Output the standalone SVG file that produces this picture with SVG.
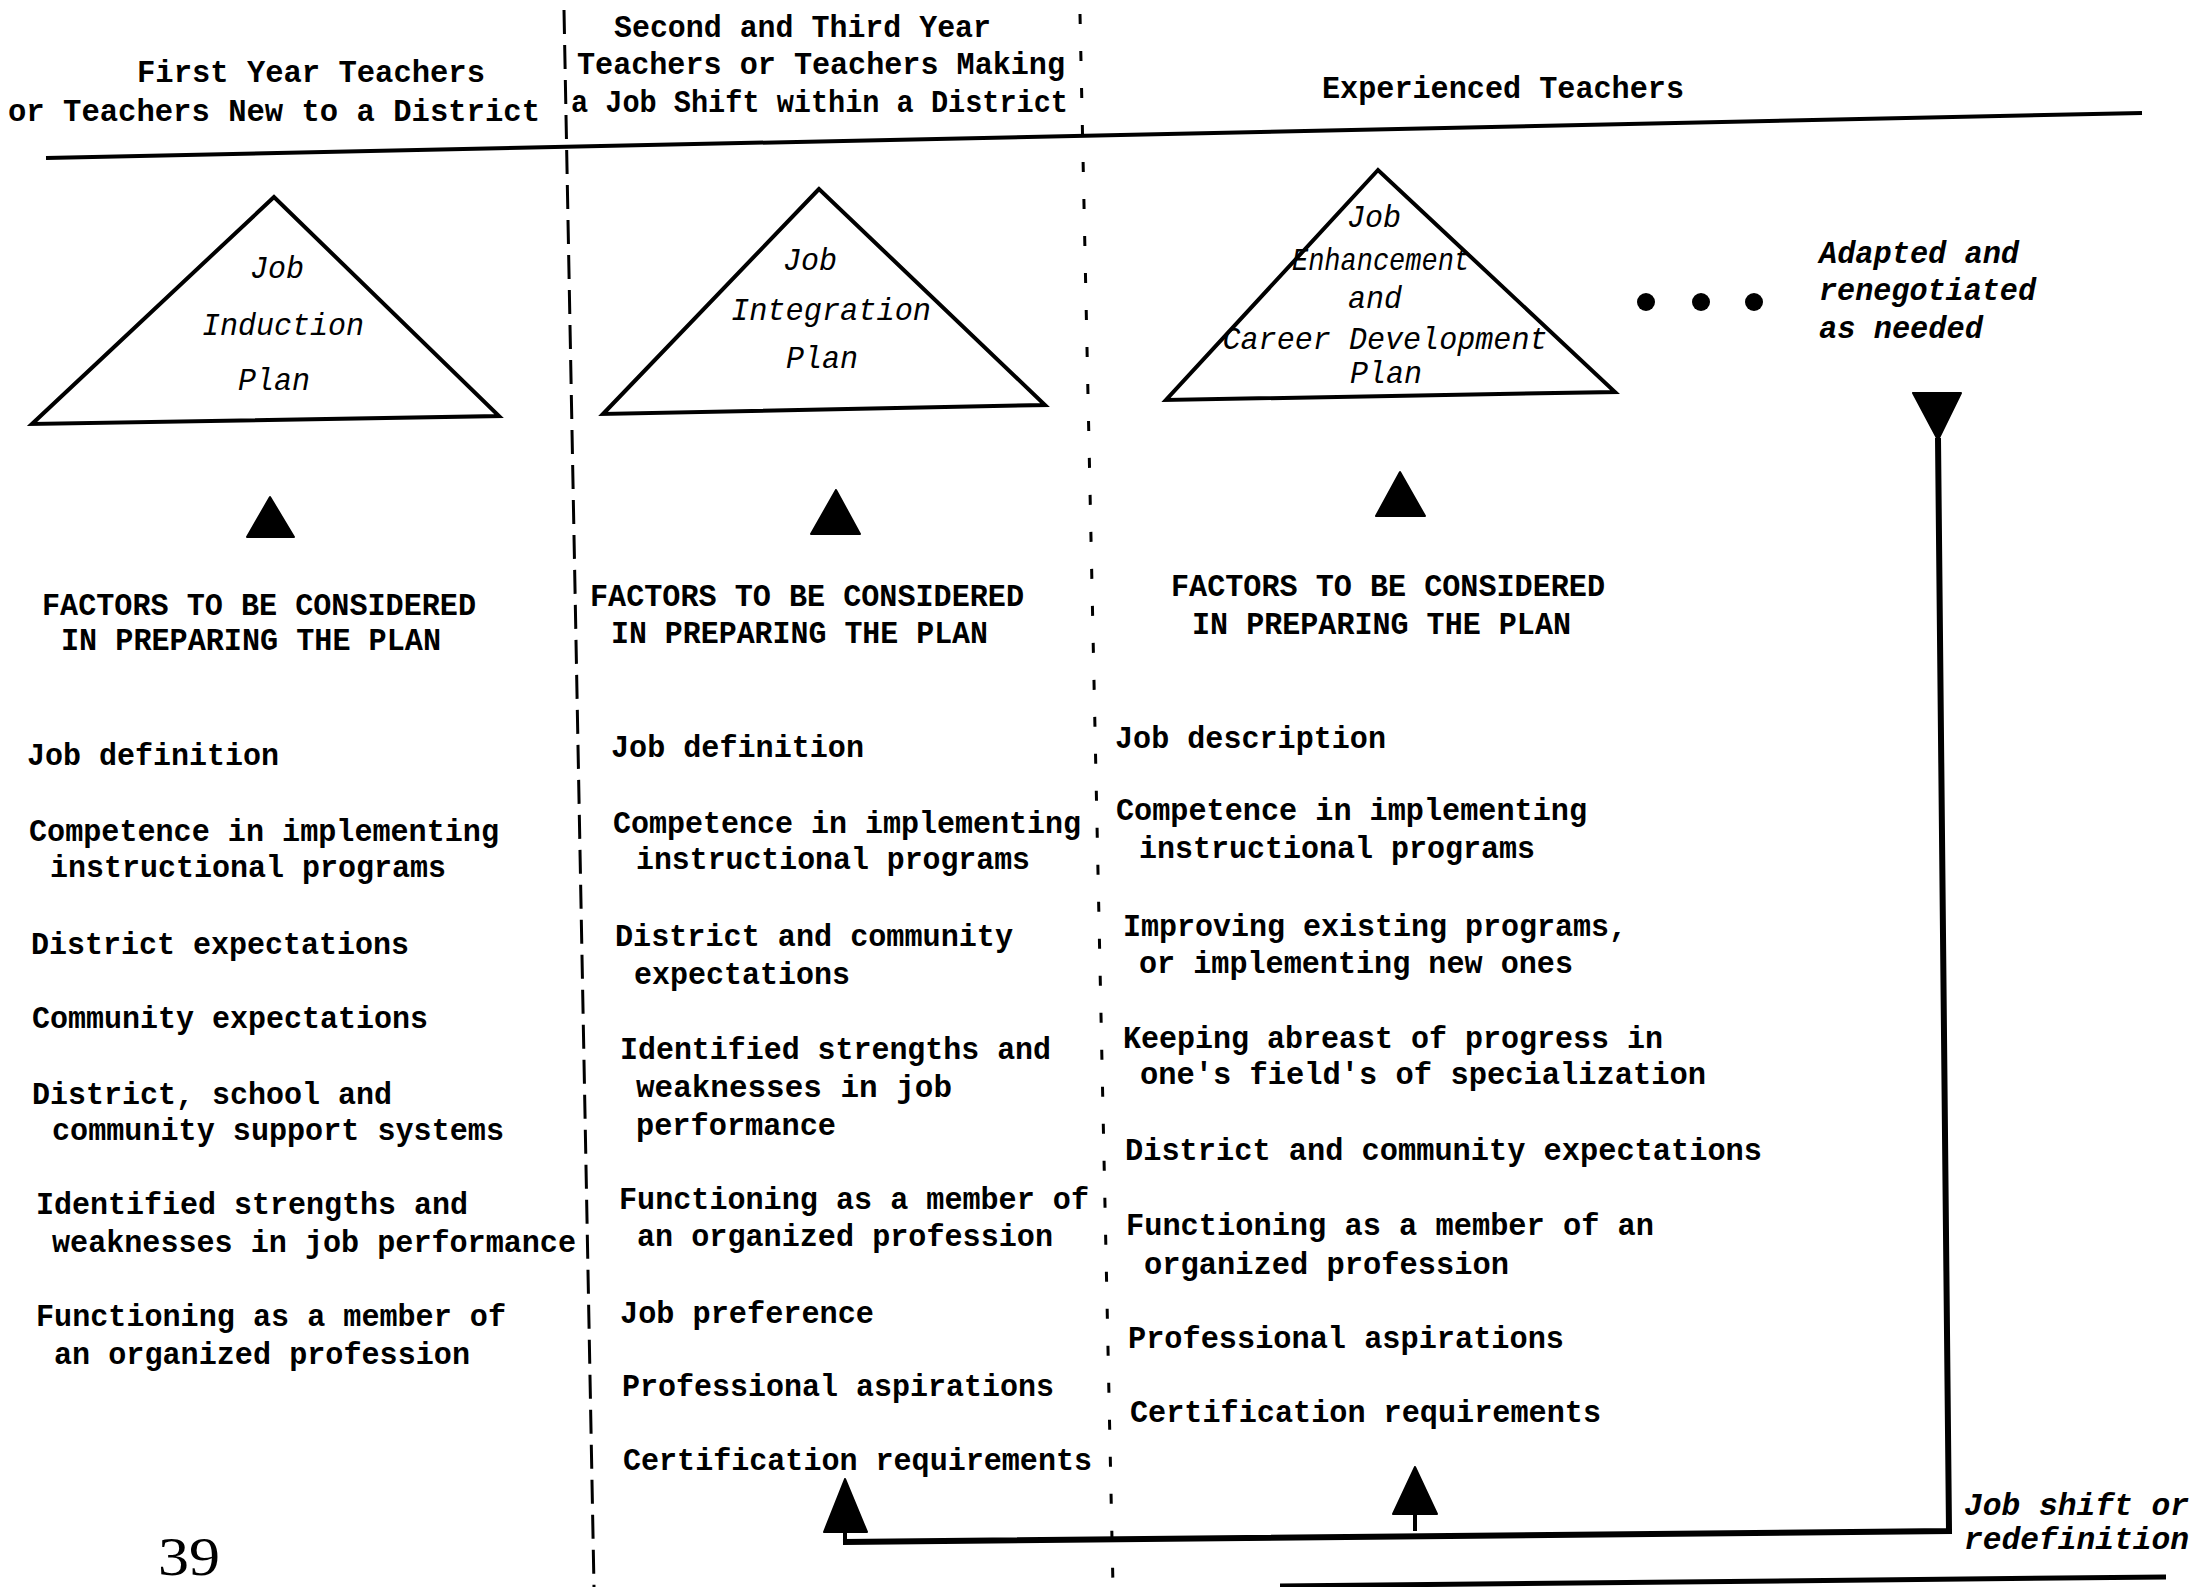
<svg xmlns="http://www.w3.org/2000/svg" width="2191" height="1587" viewBox="0 0 2191 1587">
<style>
.tw{font-family:"Liberation Mono","DejaVu Sans Mono",monospace;font-size:32px;font-weight:bold;fill:#000}
.it{font-family:"Liberation Mono","DejaVu Sans Mono",monospace;font-size:32px;font-style:italic;fill:#000;text-anchor:middle}
.itb{font-family:"Liberation Mono","DejaVu Sans Mono",monospace;font-size:32px;font-style:italic;font-weight:bold;fill:#000}
.tri{fill:#fff;stroke:#000;stroke-width:4;stroke-linejoin:miter}
.head{fill:#000;stroke:#000;stroke-width:2;stroke-linejoin:round}
.line{fill:none;stroke:#000;stroke-linecap:butt;stroke-linejoin:miter}
</style>
<rect x="0" y="0" width="2191" height="1587" fill="#fff"/>

<g id="dividers">
<path class="line" d="M46 158 L2142 113" stroke-width="4"/>
<path class="line" d="M564 10 L594 1587" stroke-width="3" stroke-dasharray="24 11"/>
<path class="line" d="M1080 14 L1113 1587" stroke-width="3" stroke-dasharray="10 27"/>
<path class="line" d="M1280 1586 L2166 1577" stroke-width="5"/>
</g>

<g id="header-first-year" lengthAdjust="spacingAndGlyphs">
<text class="tw" x="137" y="82" textLength="348" lengthAdjust="spacingAndGlyphs">First Year Teachers</text>
<text class="tw" x="8" y="121" textLength="532" lengthAdjust="spacingAndGlyphs">or Teachers New to a District</text>
</g>
<g id="header-second-third">
<text class="tw" x="614" y="37" textLength="377" lengthAdjust="spacingAndGlyphs">Second and Third Year</text>
<text class="tw" x="577" y="74" textLength="488" lengthAdjust="spacingAndGlyphs">Teachers or Teachers Making</text>
<text class="tw" x="571" y="112" textLength="497" lengthAdjust="spacingAndGlyphs">a Job Shift within a District</text>
</g>
<g id="header-experienced">
<text class="tw" x="1322" y="98" textLength="362" lengthAdjust="spacingAndGlyphs">Experienced Teachers</text>
</g>

<g id="plan-induction">
<polygon class="tri" points="274,197 32,424 499,416"/>
<text class="it" x="277" y="278" textLength="54" lengthAdjust="spacingAndGlyphs">Job</text>
<text class="it" x="283" y="335" textLength="162" lengthAdjust="spacingAndGlyphs">Induction</text>
<text class="it" x="274" y="390" textLength="72" lengthAdjust="spacingAndGlyphs">Plan</text>
</g>
<g id="plan-integration">
<polygon class="tri" points="819,189 603,414 1045,405"/>
<text class="it" x="810" y="270" textLength="54" lengthAdjust="spacingAndGlyphs">Job</text>
<text class="it" x="831" y="320" textLength="200" lengthAdjust="spacingAndGlyphs">Integration</text>
<text class="it" x="822" y="368" textLength="72" lengthAdjust="spacingAndGlyphs">Plan</text>
</g>
<g id="plan-enhancement">
<polygon class="tri" points="1378,170 1166,400 1615,392"/>
<text class="it" x="1374" y="227" textLength="54" lengthAdjust="spacingAndGlyphs">Job</text>
<text class="it" x="1381" y="270" textLength="178" lengthAdjust="spacingAndGlyphs">Enhancement</text>
<text class="it" x="1375" y="308" textLength="54" lengthAdjust="spacingAndGlyphs">and</text>
<text class="it" x="1385" y="349" textLength="325" lengthAdjust="spacingAndGlyphs">Career Development</text>
<text class="it" x="1386" y="383" textLength="72" lengthAdjust="spacingAndGlyphs">Plan</text>
</g>

<g id="continuation">
<circle cx="1646" cy="302" r="9"/>
<circle cx="1701" cy="302" r="9"/>
<circle cx="1754" cy="302" r="9"/>
<text class="itb" x="1819" y="263" textLength="200" lengthAdjust="spacingAndGlyphs">Adapted and</text>
<text class="itb" x="1819" y="300" textLength="217" lengthAdjust="spacingAndGlyphs">renegotiated</text>
<text class="itb" x="1819" y="338" textLength="164" lengthAdjust="spacingAndGlyphs">as needed</text>
</g>

<g id="factors-first-year">
<polygon class="head" points="270,497 247,537 294,537"/>
<text class="tw" x="42" y="615" textLength="434" lengthAdjust="spacingAndGlyphs">FACTORS TO BE CONSIDERED</text>
<text class="tw" x="61" y="650" textLength="380" lengthAdjust="spacingAndGlyphs">IN PREPARING THE PLAN</text>
<text class="tw" x="27" y="765" textLength="252" lengthAdjust="spacingAndGlyphs">Job definition</text>
<text class="tw" x="29" y="841" textLength="470" lengthAdjust="spacingAndGlyphs">Competence in implementing</text>
<text class="tw" x="50" y="877" textLength="396" lengthAdjust="spacingAndGlyphs">instructional programs</text>
<text class="tw" x="31" y="954" textLength="378" lengthAdjust="spacingAndGlyphs">District expectations</text>
<text class="tw" x="32" y="1028" textLength="396" lengthAdjust="spacingAndGlyphs">Community expectations</text>
<text class="tw" x="32" y="1104" textLength="360" lengthAdjust="spacingAndGlyphs">District, school and</text>
<text class="tw" x="52" y="1140" textLength="452" lengthAdjust="spacingAndGlyphs">community support systems</text>
<text class="tw" x="36" y="1214" textLength="432" lengthAdjust="spacingAndGlyphs">Identified strengths and</text>
<text class="tw" x="52" y="1252" textLength="524" lengthAdjust="spacingAndGlyphs">weaknesses in job performance</text>
<text class="tw" x="36" y="1326" textLength="470" lengthAdjust="spacingAndGlyphs">Functioning as a member of</text>
<text class="tw" x="54" y="1364" textLength="416" lengthAdjust="spacingAndGlyphs">an organized profession</text>
<text x="158" y="1575" font-family="Liberation Serif, serif" font-size="54" textLength="62" lengthAdjust="spacingAndGlyphs">39</text>
</g>

<g id="factors-second-third">
<polygon class="head" points="836,490 811,534 860,534"/>
<text class="tw" x="590" y="606" textLength="434" lengthAdjust="spacingAndGlyphs">FACTORS TO BE CONSIDERED</text>
<text class="tw" x="611" y="643" textLength="377" lengthAdjust="spacingAndGlyphs">IN PREPARING THE PLAN</text>
<text class="tw" x="611" y="757" textLength="253" lengthAdjust="spacingAndGlyphs">Job definition</text>
<text class="tw" x="613" y="833" textLength="468" lengthAdjust="spacingAndGlyphs">Competence in implementing</text>
<text class="tw" x="636" y="869" textLength="394" lengthAdjust="spacingAndGlyphs">instructional programs</text>
<text class="tw" x="615" y="946" textLength="398" lengthAdjust="spacingAndGlyphs">District and community</text>
<text class="tw" x="634" y="984" textLength="216" lengthAdjust="spacingAndGlyphs">expectations</text>
<text class="tw" x="620" y="1059" textLength="431" lengthAdjust="spacingAndGlyphs">Identified strengths and</text>
<text class="tw" x="636" y="1097" textLength="316" lengthAdjust="spacingAndGlyphs">weaknesses in job</text>
<text class="tw" x="636" y="1135" textLength="200" lengthAdjust="spacingAndGlyphs">performance</text>
<text class="tw" x="619" y="1209" textLength="470" lengthAdjust="spacingAndGlyphs">Functioning as a member of</text>
<text class="tw" x="637" y="1246" textLength="416" lengthAdjust="spacingAndGlyphs">an organized profession</text>
<text class="tw" x="620" y="1323" textLength="254" lengthAdjust="spacingAndGlyphs">Job preference</text>
<text class="tw" x="622" y="1396" textLength="432" lengthAdjust="spacingAndGlyphs">Professional aspirations</text>
<text class="tw" x="623" y="1470" textLength="469" lengthAdjust="spacingAndGlyphs">Certification requirements</text>
</g>

<g id="factors-experienced">
<polygon class="head" points="1400,472 1376,516 1425,516"/>
<text class="tw" x="1171" y="596" textLength="434" lengthAdjust="spacingAndGlyphs">FACTORS TO BE CONSIDERED</text>
<text class="tw" x="1192" y="634" textLength="379" lengthAdjust="spacingAndGlyphs">IN PREPARING THE PLAN</text>
<text class="tw" x="1115" y="748" textLength="271" lengthAdjust="spacingAndGlyphs">Job description</text>
<text class="tw" x="1116" y="820" textLength="471" lengthAdjust="spacingAndGlyphs">Competence in implementing</text>
<text class="tw" x="1139" y="858" textLength="396" lengthAdjust="spacingAndGlyphs">instructional programs</text>
<text class="tw" x="1123" y="936" textLength="504" lengthAdjust="spacingAndGlyphs">Improving existing programs,</text>
<text class="tw" x="1139" y="973" textLength="434" lengthAdjust="spacingAndGlyphs">or implementing new ones</text>
<text class="tw" x="1123" y="1048" textLength="540" lengthAdjust="spacingAndGlyphs">Keeping abreast of progress in</text>
<text class="tw" x="1140" y="1084" textLength="566" lengthAdjust="spacingAndGlyphs">one's field's of specialization</text>
<text class="tw" x="1125" y="1160" textLength="637" lengthAdjust="spacingAndGlyphs">District and community expectations</text>
<text class="tw" x="1126" y="1235" textLength="528" lengthAdjust="spacingAndGlyphs">Functioning as a member of an</text>
<text class="tw" x="1144" y="1274" textLength="365" lengthAdjust="spacingAndGlyphs">organized profession</text>
<text class="tw" x="1128" y="1348" textLength="436" lengthAdjust="spacingAndGlyphs">Professional aspirations</text>
<text class="tw" x="1130" y="1422" textLength="471" lengthAdjust="spacingAndGlyphs">Certification requirements</text>
</g>

<g id="connectors">
<polygon class="head" points="1913,393 1961,393 1938,440"/>
<path class="line" d="M1938 438 L1949 1531 L843 1542" stroke-width="6"/>
<path class="line" d="M845 1542 L845 1530" stroke-width="4"/>
<polygon class="head" points="845,1479 824,1532 867,1532"/>
<path class="line" d="M1415 1531 L1415 1512" stroke-width="4"/>
<polygon class="head" points="1415,1467 1393,1514 1437,1514"/>
<text class="itb" x="1964" y="1515" textLength="225" lengthAdjust="spacingAndGlyphs">Job shift or</text>
<text class="itb" x="1964" y="1549" textLength="225" lengthAdjust="spacingAndGlyphs">redefinition</text>
</g>
</svg>
